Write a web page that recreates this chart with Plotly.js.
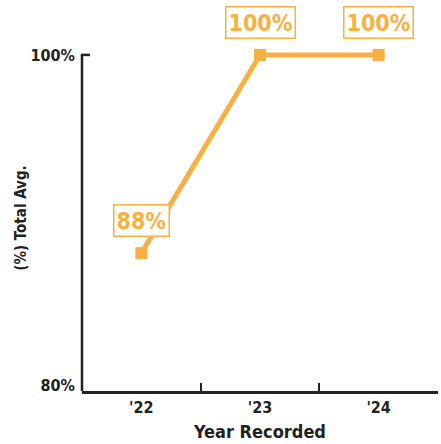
<!DOCTYPE html>
<html>
<head>
<meta charset="utf-8">
<script src="https://cdn.plot.ly/plotly-3.0.1.min.js"></script>
<style>html,body{margin:0;padding:0;background:#fff;}#chart{width:441px;height:444px;}</style>
</head>
<body>
<div id="chart"></div>
<script>
const years = ["'22", "'23", "'24"];
const values = [88, 100, 100];
const labels = ["88%", "100%", "100%"];
const yTickVals = [80, 100];
const yTickText = ["80%", "100%"];

const orange = '#F9B042';
const ink = '#222222';
const font = 'DejaVu Sans Condensed, Liberation Sans Narrow, sans-serif';

const trace = {
  x: years, y: values, type: 'scatter', mode: 'lines+markers',
  line: {color: orange, width: 5},
  marker: {color: orange, symbol: 'square', size: 12},
  cliponaxis: false, hoverinfo: 'none'
};

const annotations = years.map((yr, i) => ({
  x: yr, y: values[i], xref: 'x', yref: 'y',
  text: labels[i], showarrow: false, yanchor: 'bottom', yshift: 16,
  font: {family: font, size: 23, color: orange, weight: 'bold'},
  bordercolor: orange, borderwidth: 1.5, borderpad: 2, bgcolor: '#ffffff'
}));

const layout = {
  width: 441, height: 444,
  margin: {l: 82, r: 3, t: 45, b: 53},
  paper_bgcolor: '#fff', plot_bgcolor: '#fff',
  showlegend: false,
  font: {family: font, color: ink},
  xaxis: {
    type: 'category', range: [-0.5, 2.5],
    showline: true, linecolor: ink, linewidth: 2.5,
    ticks: 'inside', tickson: 'boundaries', ticklen: 8, tickwidth: 2, tickcolor: ink,
    showgrid: false, zeroline: false,
    tickfont: {family: font, size: 16, color: ink, weight: 'bold'},
    title: {text: 'Year Recorded', font: {family: font, size: 18, color: ink, weight: 'bold'}, standoff: 10}
  },
  yaxis: {
    range: [79.65, 100.6],
    showline: false,
    tickmode: 'array', tickvals: yTickVals, ticktext: yTickText,
    ticks: '', ticklabelstandoff: 6,
    showgrid: false, zeroline: false,
    tickfont: {family: font, size: 16, color: ink, weight: 'bold'},
    title: {text: '(%) Total Avg.', font: {family: font, size: 15, color: ink, weight: 'bold'}, standoff: 0}
  },
  shapes: [{
    type: 'line', xref: 'paper', yref: 'y',
    x0: 0, x1: 0, y0: 79.65, y1: 100,
    line: {color: ink, width: 2.5}
  }, {
    type: 'line', xref: 'paper', yref: 'y', xsizemode: 'pixel', xanchor: 0,
    x0: -1.2, x1: 8, y0: 100, y1: 100,
    line: {color: ink, width: 2.5}
  }],
  annotations: annotations
};

Plotly.newPlot('chart', [trace], layout, {displayModeBar: false, staticPlot: true});
</script>
</body>
</html>
